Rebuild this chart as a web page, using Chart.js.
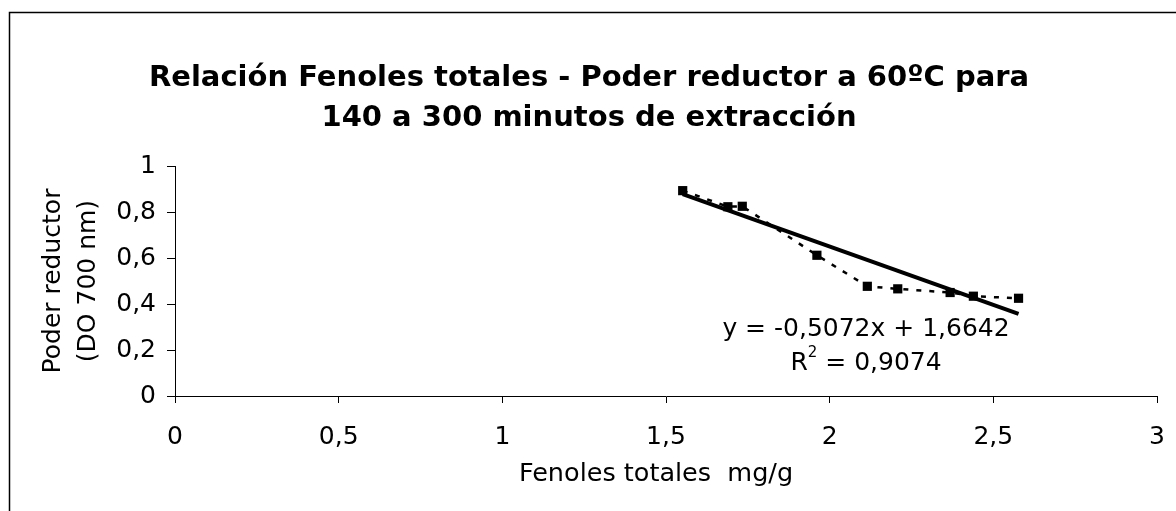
<!DOCTYPE html>
<html>
<head>
<meta charset="utf-8">
<script src="https://cdn.jsdelivr.net/npm/chart.js@4"></script>
<style>
  html, body { margin: 0; padding: 0; background: #fff; }
  #wrap { position: relative; width: 1176px; height: 511px; }
</style>
</head>
<body>
<div id="wrap"><canvas id="chart" width="1176" height="511"></canvas></div>
<script>
// Data
const fenoles = [1.551, 1.689, 1.733, 1.961, 2.115, 2.208, 2.368, 2.439, 2.577];
const poder = [0.893, 0.823, 0.825, 0.612, 0.477, 0.466, 0.45, 0.434, 0.425];
const xTicks = [0, 0.5, 1, 1.5, 2, 2.5, 3];
const yTicks = [0, 0.2, 0.4, 0.6, 0.8, 1];

// Trendline shown in the chart: y = -0,5072x + 1,6642, R2 = 0,9074
const slope = -0.5072;
const intercept = 1.6642;
const r2 = 0.9074;

const titleLines = ['Relación Fenoles totales - Poder reductor a 60ºC para', '140 a 300 minutos de extracción'];
const xTitle = 'Fenoles totales  mg/g';
const yTitle = ['Poder reductor', '(DO 700 nm)'];

const fmt = v => String(v).replace('.', ',');
const fontFam = '"DejaVu Sans", Verdana, sans-serif';

// trendline from min to max x
const xMin = Math.min(...fenoles);
const xMax = Math.max(...fenoles);
const trend = [xMin, xMax].map(x => ({ x: x, y: slope * x + intercept }));
const points = fenoles.map((x, i) => ({ x: x, y: poder[i] }));

// frame, x axis title and equation text
const extras = {
    id: 'extras',
    afterDraw(chart) {
        const ctx = chart.ctx;
        ctx.save();
        ctx.strokeStyle = '#000';
        ctx.lineWidth = 1.5;
        ctx.beginPath();
        ctx.moveTo(9.5, 511);
        ctx.lineTo(9.5, 12.5);
        ctx.lineTo(1176, 12.5);
        ctx.stroke();

        ctx.fillStyle = '#000';
        ctx.font = '25.5px ' + fontFam;
        ctx.textAlign = 'center';
        ctx.textBaseline = 'middle';
        ctx.fillText(xTitle, 656, 474);

        ctx.font = '25px ' + fontFam;
        const eqX = 866, eqY = 329;
        ctx.fillText('y = ' + fmt(slope) + 'x + ' + fmt(intercept), eqX, eqY);
        // R² with a raised 2
        const a = 'R', b = ' = ' + fmt(r2);
        const wa = ctx.measureText(a).width, wb = ctx.measureText(b).width;
        ctx.font = '15px ' + fontFam;
        const w2 = ctx.measureText('2').width;
        const start = eqX - (wa + w2 + wb) / 2;
        ctx.textAlign = 'left';
        ctx.fillText('2', start + wa, eqY + 24);
        ctx.font = '25px ' + fontFam;
        ctx.fillText(a, start, eqY + 34);
        ctx.fillText(b, start + wa + w2, eqY + 34);
        ctx.restore();
    }
};

new Chart(document.getElementById('chart'), {
    type: 'scatter',
    data: {
        datasets: [
            {
                label: 'Poder reductor',
                data: points,
                showLine: true,
                borderColor: '#000',
                borderWidth: 2.5,
                borderDash: [5, 8],
                backgroundColor: '#000',
                pointStyle: 'rect',
                pointRadius: 6.5,
                pointBorderWidth: 0
            },
            {
                label: 'Lineal',
                data: trend,
                showLine: true,
                borderColor: '#000',
                borderWidth: 4,
                pointRadius: 0
            }
        ]
    },
    options: {
        responsive: false,
        animation: false,
        layout: { padding: { left: 9, right: 7, top: 0, bottom: 0 } },
        plugins: {
            legend: { display: false },
            tooltip: { enabled: false },
            title: {
                display: true,
                text: titleLines,
                color: '#000',
                font: { family: fontFam, size: 29, weight: 'bold', lineHeight: 1.38 },
                padding: { top: 58, bottom: 28 }
            }
        },
        scales: {
            x: {
                type: 'linear',
                min: 0,
                max: 3,
                afterBuildTicks: s => { s.ticks = xTicks.map(v => ({ value: v })); },
                afterFit: s => { s.height = 115; },
                border: { color: '#000', width: 1 },
                grid: { drawOnChartArea: false, drawTicks: true, tickLength: 7, color: '#000' },
                ticks: { color: '#000', font: { family: fontFam, size: 25, lineHeight: 2.4 }, padding: 4, callback: v => fmt(v) }
            },
            y: {
                min: 0,
                max: 1,
                afterBuildTicks: s => { s.ticks = yTicks.map(v => ({ value: v })); },
                afterFit: s => { s.width = 166; },
                border: { color: '#000', width: 1 },
                grid: { drawOnChartArea: false, drawTicks: true, tickLength: 8, color: '#000' },
                ticks: { color: '#000', font: { family: fontFam, size: 25 }, padding: 11, callback: v => fmt(v) },
                title: {
                    display: true,
                    text: yTitle,
                    color: '#000',
                    font: { family: fontFam, size: 25, lineHeight: 1.4 },
                    padding: { top: 27 }
                }
            },
            // empty right-hand strip so the title centres like the reference
            yRight: {
                position: 'right',
                display: true,
                min: 0,
                max: 1,
                afterFit: s => { s.width = 12; },
                border: { display: false },
                grid: { display: false },
                ticks: { display: false }
            }
        }
    },
    plugins: [extras]
});
</script>
</body>
</html>
